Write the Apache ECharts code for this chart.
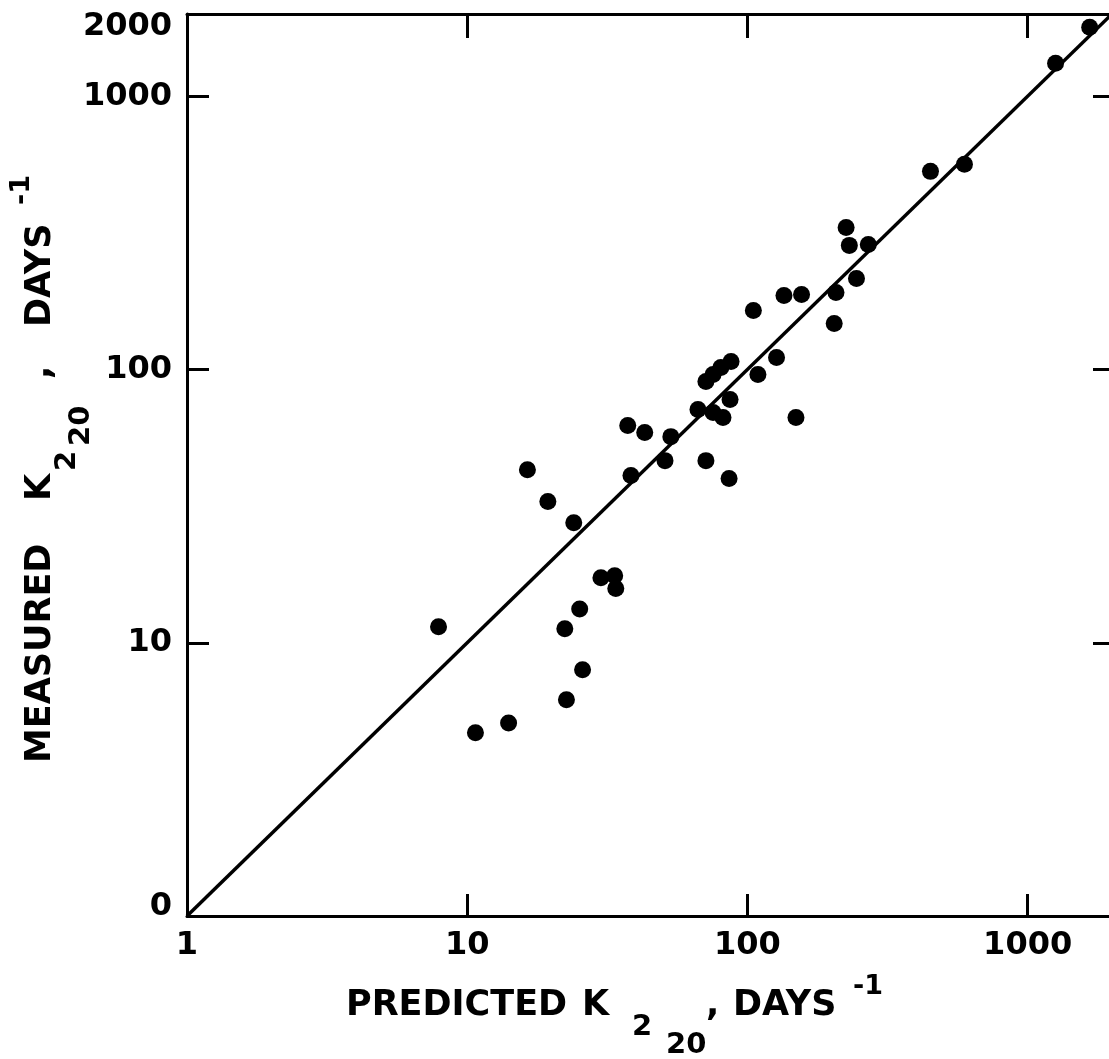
<!DOCTYPE html>
<html>
<head>
<meta charset="utf-8">
<script src="https://cdn.jsdelivr.net/npm/echarts@6/dist/echarts.min.js"></script>
<style>
  html, body { margin: 0; padding: 0; background: #fff; }
  #chart { width: 1109px; height: 1059px; }
</style>
</head>
<body>
<div id="chart"></div>
<script>
// Reaeration coefficients K2 at 20 °C, 1/day: predicted vs. measured
const predicted = [7.9, 10.7, 14.05, 16.4, 19.4, 24.0, 22.3, 25.2, 22.6, 25.8,
  30.0, 33.6, 33.9, 37.4, 38.4, 43.0, 50.8, 53.3, 66.6, 71.1,
  71.1, 75.4, 80.4, 87.4, 75.4, 81.8, 86.7, 86.0, 109, 127,
  149, 105, 135, 156, 204, 207, 225, 231, 245, 270,
  450, 595, 1258, 1665];
const measured = [11.45, 4.68, 5.09, 43.0, 32.9, 27.5, 11.25, 13.3, 6.18, 7.96,
  17.3, 17.6, 15.8, 62.4, 40.9, 58.8, 46.4, 56.8, 71.4, 46.4,
  90.4, 95.9, 101.7, 107, 69.6, 66.7, 77.6, 39.9, 95.9, 110.7,
  66.7, 164.5, 186.6, 188.2, 147.4, 191.4, 331, 284.6, 215.4, 287,
  531, 564, 1321, 1789];

// Line of perfect agreement (measured = predicted)
const equalityLine = [1, 2000];

// Axis tick values and the text printed beside them
const xTickValues = [1, 10, 100, 1000];
const xTickLabels = ['1', '10', '100', '1000'];
const yTickValues = [1, 10, 100, 1000, 2000];
const yTickLabels = ['0', '10', '100', '1000', '2000'];

const FONT = '"DejaVu Sans", "Liberation Sans", sans-serif';
const INK = '#000';
const TITLE_FONT = 'bold 35px ' + FONT;
const SUB_FONT = 'bold 29px ' + FONT;

function xLabel(v) {
  const i = xTickValues.findIndex(t => Math.abs(t - v) / t < 1e-6);
  return i < 0 ? '' : xTickLabels[i];
}
function yLabel(v) {
  const i = yTickValues.findIndex(t => Math.abs(t - v) / t < 1e-6);
  if (i < 0) return '';
  if (i === 0) return '{lo|' + yTickLabels[i] + '}';
  if (i === yTickValues.length - 1) return '{hi|' + yTickLabels[i] + '}';
  return yTickLabels[i];
}

const frameLine = { show: true, lineStyle: { color: INK, width: 3 } };
const innerTick = (len) => ({ show: true, inside: true, length: len, lineStyle: { color: INK, width: 3 } });

function word(text, x, y, font) {
  return { type: 'text', x: x, y: y, style: { text: text, font: font, fill: INK, align: 'left', verticalAlign: 'middle' } };
}

const chart = echarts.init(document.getElementById('chart'), null, { renderer: 'canvas' });

const option = {
  backgroundColor: '#fff',
  animation: false,
  // the right-hand frame sits just past the page edge
  grid: { left: 187, width: 925, top: 14, bottom: 143, containLabel: false, outerBoundsMode: 'none' },
  xAxis: [
    {
      type: 'log', logBase: 10, min: 1, max: 2000, position: 'bottom',
      axisLine: frameLine, axisTick: innerTick(22), splitLine: { show: false },
      axisLabel: {
        color: INK, fontFamily: FONT, fontWeight: 'bold', fontSize: 32, margin: 14,
        formatter: xLabel
      }
    },
    {
      type: 'log', logBase: 10, min: 1, max: 2000, position: 'top',
      axisLine: frameLine, axisTick: innerTick(24), splitLine: { show: false },
      axisLabel: { show: false }
    }
  ],
  yAxis: [
    {
      type: 'log', logBase: 10, min: 1, max: 2000, position: 'left',
      axisLine: frameLine, axisTick: innerTick(22), splitLine: { show: false },
      axisLabel: {
        color: INK, fontFamily: FONT, fontWeight: 'bold', fontSize: 32, margin: 15,
        formatter: yLabel,
        rich: {
          lo: { color: INK, fontFamily: FONT, fontWeight: 'bold', fontSize: 32, padding: [0, 0, 18, 0] },
          hi: { color: INK, fontFamily: FONT, fontWeight: 'bold', fontSize: 32, padding: [26, 0, 0, 0] }
        }
      }
    },
    {
      type: 'log', logBase: 10, min: 1, max: 2000, position: 'right',
      axisLine: frameLine, axisTick: innerTick(19), splitLine: { show: false },
      axisLabel: { show: false }
    }
  ],
  series: [
    {
      type: 'line',
      data: equalityLine.map(v => [v, v]),
      showSymbol: false, symbol: 'none',
      lineStyle: { color: INK, width: 3.5 },
      silent: true, z: 2
    },
    {
      type: 'scatter',
      data: predicted.map((p, i) => [p, measured[i]]),
      symbol: 'circle', symbolSize: 17,
      itemStyle: { color: INK, opacity: 1 },
      z: 3
    }
  ],
  graphic: [
    // x-axis title: PREDICTED K220, DAYS^-1
    { type: 'group', silent: true, children: [
      word('PREDICTED', 346, 1006, TITLE_FONT),
      word('K', 582, 1006, TITLE_FONT),
      word('2', 632, 1027, SUB_FONT),
      word('20', 666, 1045, SUB_FONT),
      word(',', 706, 1006, TITLE_FONT),
      word('DAYS', 733, 1006, TITLE_FONT),
      word('-1', 853, 987, 'bold 27px ' + FONT)
    ] },
    // y-axis title, reading bottom to top
    { type: 'group', x: 41, y: 763, rotation: Math.PI / 2, silent: true, children: [
      word('MEASURED', 0, 0, TITLE_FONT),
      word('K', 262, 0, TITLE_FONT),
      word('2', 292, 26, SUB_FONT),
      word('20', 317, 40, SUB_FONT),
      word(',', 384, 0, TITLE_FONT),
      word('DAYS', 436, 0, TITLE_FONT),
      word('-1', 558, -19, 'bold 27px ' + FONT)
    ] }
  ]
};

chart.setOption(option);
</script>
</body>
</html>
